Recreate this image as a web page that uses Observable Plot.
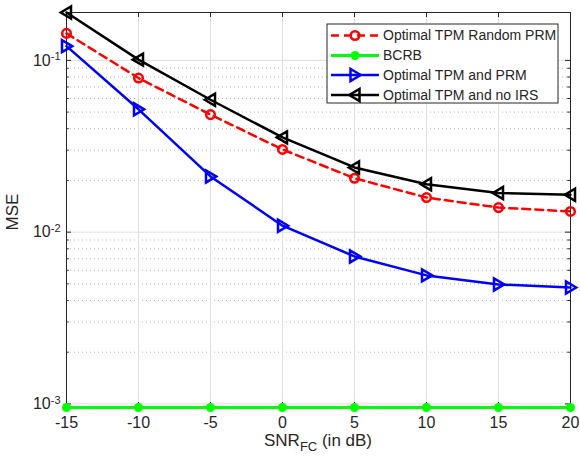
<!DOCTYPE html>
<html>
<head>
<meta charset="utf-8">
<script src="https://cdn.jsdelivr.net/npm/d3@7"></script>
<script src="https://cdn.jsdelivr.net/npm/@observablehq/plot@0.6"></script>
<style>
  html, body { margin: 0; padding: 0; background: #fff; }
  svg { font-family: "Liberation Sans", Arial, sans-serif; }
</style>
</head>
<body>
<div id="chart"></div>
<script>
const snr = [-15, -10, -5, 0, 5, 10, 15, 20];
const randomPRM = [0.1436, 0.0789, 0.0483, 0.0303, 0.0206, 0.0159, 0.0139, 0.0132];
const bcrb = [0.000953, 0.000953, 0.000953, 0.000953, 0.000953, 0.000953, 0.000953, 0.000953];
const optimalPRM = [0.121, 0.0519, 0.0211, 0.0109, 0.00722, 0.0056, 0.00496, 0.00476];
const noIRS = [0.19, 0.101, 0.059, 0.0356, 0.0238, 0.019, 0.0169, 0.0165];
const seriesNames = ["Optimal TPM Random PRM", "BCRB", "Optimal TPM and PRM", "Optimal TPM and no IRS"];
const xTicks = [-15, -10, -5, 0, 5, 10, 15, 20];
const yTicks = [1e-3, 1e-2, 1e-1];
const yTickLabels = ["10^-3", "10^-2", "10^-1"];

const ymin = 0.000953, ymax = 0.19;
const minor = [];
for (const d of [1e-3, 1e-2]) for (let k = 2; k <= 9; k++) minor.push(k * d);

const triRight = {draw(ctx, size) { const r = Math.sqrt(size / Math.PI); ctx.moveTo(r*0.95, 0); ctx.lineTo(-r*0.75, -r); ctx.lineTo(-r*0.75, r); ctx.closePath(); }};
const triLeft = {draw(ctx, size) { const r = Math.sqrt(size / Math.PI); ctx.moveTo(-r*0.95, 0); ctx.lineTo(r*0.75, -r); ctx.lineTo(r*0.75, r); ctx.closePath(); }};

const mk = (vals) => snr.map((x, i) => ({x, y: vals[i]}));
const dRed = mk(randomPRM), dGreen = mk(bcrb), dBlue = mk(optimalPRM), dBlack = mk(noIRS);

const gridC = "#dfdfdf";
const axC = "#262626";
const tx = 0.35; // inward tick length in x units
const ty = Math.pow(10, 5 / 171.7); // inward tick factor in log y

const chart = Plot.plot({
  width: 580, height: 463,
  marginLeft: 66, marginRight: 10, marginTop: 12, marginBottom: 56,
  style: {fontFamily: "Liberation Sans, Arial, sans-serif", fontSize: "16px", color: axC},
  x: {domain: [-15, 20]},
  y: {type: "log", domain: [ymin, ymax]},
  marks: [
    Plot.ruleY(minor, {stroke: "#b8b8b8", strokeDasharray: "1,3", strokeWidth: 1}),
    Plot.ruleY(yTicks, {stroke: gridC, strokeWidth: 1}),
    Plot.ruleX(xTicks, {stroke: gridC, strokeWidth: 1}),
    // inward ticks
    Plot.ruleY(yTicks, {x1: -15, x2: -15 + tx, stroke: axC}),
    Plot.ruleY(yTicks, {x1: 20, x2: 20 - tx, stroke: axC}),
    Plot.ruleY(minor, {x1: -15, x2: -15 + tx * 0.55, stroke: axC}),
    Plot.ruleY(minor, {x1: 20, x2: 20 - tx * 0.55, stroke: axC}),
    Plot.ruleX(xTicks, {y1: ymin, y2: ymin * ty, stroke: axC}),
    Plot.ruleX(xTicks, {y1: ymax, y2: ymax / ty, stroke: axC}),
    Plot.frame({stroke: axC, strokeWidth: 1}),
    Plot.axisX({ticks: xTicks, tickSize: 0, tickPadding: 9, tickFormat: d => String(d), label: null, fontSize: 16}),
    Plot.axisY({ticks: yTicks, tickSize: 0, tickPadding: 6, tickFormat: d => yTickLabels[yTicks.indexOf(d)], label: null, fontSize: 16}),
    // series
    Plot.line(dRed, {x: "x", y: "y", stroke: "#ff0000", strokeWidth: 2.5, strokeDasharray: "8,5"}),
    Plot.dot(dRed, {x: "x", y: "y", stroke: "#ff0000", strokeWidth: 2.5, r: 4.3, fill: "none"}),
    Plot.line(dGreen, {x: "x", y: "y", stroke: "#00ff00", strokeWidth: 3}),
    Plot.dot(dGreen, {x: "x", y: "y", fill: "#00ff00", r: 4.5}),
    Plot.line(dBlue, {x: "x", y: "y", stroke: "#0000ff", strokeWidth: 2.5}),
    Plot.dot(dBlue, {x: "x", y: "y", stroke: "#0000ff", strokeWidth: 2.5, r: 6, symbol: triRight, fill: "none"}),
    Plot.line(dBlack, {x: "x", y: "y", stroke: "#000000", strokeWidth: 2.5}),
    Plot.dot(dBlack, {x: "x", y: "y", stroke: "#000000", strokeWidth: 2.5, r: 6, symbol: triLeft, fill: "none"})
  ]
});

document.getElementById("chart").appendChild(chart);
const svg = d3.select(chart);

// superscripts on y tick labels
svg.selectAll('g[aria-label="y-axis tick label"] text').each(function() {
  const t = this.textContent;
  const [b, e] = t.split("^");
  this.textContent = "";
  const s = d3.select(this);
  s.append("tspan").text(b);
  s.append("tspan").attr("dy", "-0.5em").attr("font-size", "11px").text(e);
});

// axis labels
const xl = svg.append("text").attr("x", 318).attr("y", 446).attr("text-anchor", "middle")
  .attr("font-size", 17).attr("fill", axC);
xl.append("tspan").text("SNR");
xl.append("tspan").attr("dy", "5").attr("font-size", 13).text("FC");
xl.append("tspan").attr("dy", "-5").text(" (in dB)");

svg.append("text").attr("transform", "translate(18,212) rotate(-90)").attr("text-anchor", "middle")
  .attr("font-size", 17).attr("fill", axC).text("MSE");

// legend
const lg = svg.append("g");
lg.append("rect").attr("x", 327).attr("y", 24).attr("width", 231).attr("height", 79)
  .attr("fill", "#fff").attr("stroke", axC).attr("stroke-width", 1);
const rowsY = [35.5, 55.5, 75, 95];
const styles = [
  {c: "#ff0000", dash: "8,5", sym: "circle"},
  {c: "#00ff00", dash: null, sym: "filled"},
  {c: "#0000ff", dash: null, sym: "right"},
  {c: "#000000", dash: null, sym: "left"}
];
seriesNames.forEach((name, i) => {
  const y = rowsY[i], st = styles[i];
  const ln = lg.append("line").attr("x1", 331).attr("x2", 379).attr("y1", y).attr("y2", y)
    .attr("stroke", st.c).attr("stroke-width", st.sym === "filled" ? 3 : 2.5);
  if (st.dash) ln.attr("stroke-dasharray", st.dash);
  const cx = 355;
  if (st.sym === "circle") lg.append("circle").attr("cx", cx).attr("cy", y).attr("r", 4.3).attr("fill", "none").attr("stroke", st.c).attr("stroke-width", 2.5);
  if (st.sym === "filled") lg.append("circle").attr("cx", cx).attr("cy", y).attr("r", 4.5).attr("fill", st.c);
  if (st.sym === "right") lg.append("path").attr("d", d3.symbol(triRight, 36 * Math.PI)()).attr("transform", `translate(${cx},${y})`).attr("fill", "none").attr("stroke", st.c).attr("stroke-width", 2.5);
  if (st.sym === "left") lg.append("path").attr("d", d3.symbol(triLeft, 36 * Math.PI)()).attr("transform", `translate(${cx},${y})`).attr("fill", "none").attr("stroke", st.c).attr("stroke-width", 2.5);
  lg.append("text").attr("x", 383).attr("y", y).attr("dy", "0.35em").attr("text-anchor", "start")
    .attr("font-size", 14).attr("fill", axC).text(name);
});
</script>
</body>
</html>
